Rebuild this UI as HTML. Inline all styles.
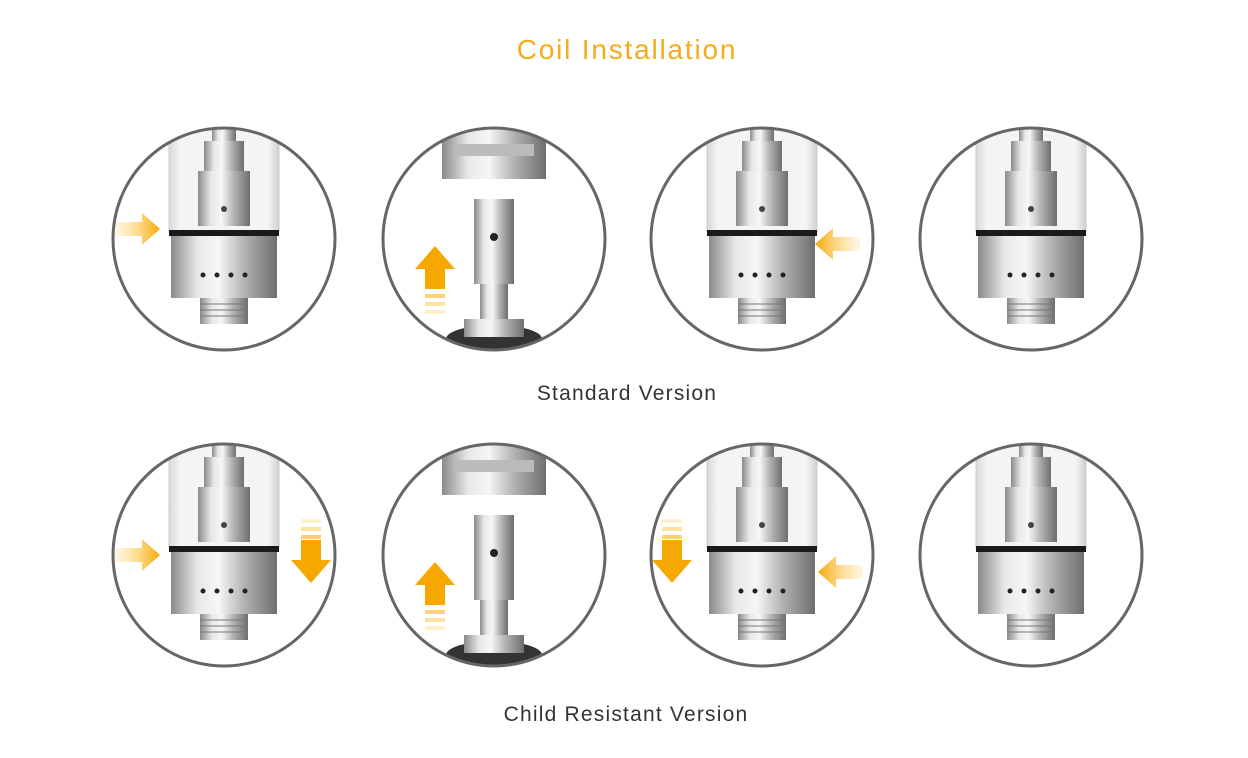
<!DOCTYPE html>
<html><head><style>
html,body{margin:0;padding:0;background:#fff;width:1248px;height:758px;overflow:hidden}
svg{display:block}
</style></head><body>
<svg width="1248" height="758" viewBox="0 0 1248 758" xmlns="http://www.w3.org/2000/svg">
<defs>
<linearGradient id="m" x1="0" x2="1" y1="0" y2="0">
<stop offset="0" stop-color="#8a8a8a"/><stop offset="0.25" stop-color="#e8e8e8"/><stop offset="0.45" stop-color="#f6f6f6"/><stop offset="0.7" stop-color="#b0b0b0"/><stop offset="1" stop-color="#6e6e6e"/>
</linearGradient>
<linearGradient id="g" x1="0" x2="1">
<stop offset="0" stop-color="#d8d8d8"/><stop offset="0.1" stop-color="#f4f4f4"/><stop offset="0.9" stop-color="#f4f4f4"/><stop offset="1" stop-color="#d0d0d0"/>
</linearGradient>
<linearGradient id="o" x1="0" x2="1"><stop offset="0" stop-color="#fde3a0" stop-opacity="0.3"/><stop offset="1" stop-color="#f7a800"/></linearGradient>
<clipPath id="c"><circle cx="0" cy="0" r="111"/></clipPath>
<g id="atom">
<rect x="-55" y="-125" width="110" height="118" fill="url(#g)" stroke="#ccc"/>
<rect x="-12" y="-125" width="24" height="30" fill="url(#m)"/>
<rect x="-20" y="-98" width="40" height="30" fill="url(#m)"/>
<rect x="-26" y="-68" width="52" height="55" fill="url(#m)"/>
<circle cx="0" cy="-30" r="3" fill="#444"/>
<rect x="-55" y="-9" width="110" height="6" fill="#1a1a1a"/>
<rect x="-53" y="-3" width="106" height="62" fill="url(#m)"/>
<circle cx="-21" cy="36" r="2.5" fill="#222"/><circle cx="-7" cy="36" r="2.5" fill="#222"/><circle cx="7" cy="36" r="2.5" fill="#222"/><circle cx="21" cy="36" r="2.5" fill="#222"/>
<rect x="-24" y="59" width="48" height="26" fill="url(#m)"/>
<line x1="-24" x2="24" y1="65" y2="65" stroke="#777"/><line x1="-24" x2="24" y1="71" y2="71" stroke="#777"/><line x1="-24" x2="24" y1="77" y2="77" stroke="#777"/>
</g>
<g id="coil">
<rect x="-52" y="-110" width="104" height="50" fill="url(#m)"/>
<rect x="-40" y="-95" width="80" height="12" fill="#bbb"/>
<rect x="-20" y="-40" width="40" height="85" fill="url(#m)"/>
<circle cx="0" cy="-2" r="4" fill="#222"/>
<rect x="-14" y="45" width="28" height="40" fill="url(#m)"/>
<ellipse cx="0" cy="100" rx="48" ry="14" fill="#333"/>
<rect x="-30" y="80" width="60" height="18" fill="url(#m)"/>
</g>
<g id="ar"><path d="M-45 -7 H-18 V-16 L0 0 L-18 16 V7 H-45 Z" fill="url(#o)"/></g>
<g id="au"><path d="M-10 15 V-5 H-20 L0 -28 L20 -5 H10 V15 Z" fill="#f7a800"/><rect x="-10" y="20" width="20" height="4" fill="#fbd27a"/><rect x="-10" y="28" width="20" height="4" fill="#fde3a0"/><rect x="-10" y="36" width="20" height="4" fill="#fef0cc"/></g>
<g id="ad"><path d="M-10 -15 V5 H-20 L0 28 L20 5 H10 V-15 Z" fill="#f7a800"/><rect x="-10" y="-20" width="20" height="4" fill="#fbd27a"/><rect x="-10" y="-28" width="20" height="4" fill="#fde3a0"/><rect x="-10" y="-36" width="20" height="4" fill="#fef0cc"/></g>
</defs>

<text x="627" y="59" text-anchor="middle" font-family="Liberation Sans, sans-serif" font-size="28" letter-spacing="1.8" fill="#f5ab1c">Coil Installation</text>
<text x="627" y="400" text-anchor="middle" font-family="Liberation Sans, sans-serif" font-size="21" letter-spacing="1.2" fill="#333">Standard Version</text>
<text x="626" y="721" text-anchor="middle" font-family="Liberation Sans, sans-serif" font-size="21" letter-spacing="1.2" fill="#333">Child Resistant Version</text>

<!-- row 1 -->
<g transform="translate(224,239)"><g clip-path="url(#c)"><use href="#atom"/><use href="#ar" transform="translate(-64,-10)"/></g><circle r="111" fill="none" stroke="#666" stroke-width="3"/></g>
<g transform="translate(494,239)"><g clip-path="url(#c)"><use href="#coil"/><use href="#au" transform="translate(-59,35)"/></g><circle r="111" fill="none" stroke="#666" stroke-width="3"/></g>
<g transform="translate(762,239)"><g clip-path="url(#c)"><use href="#atom"/><use href="#ar" transform="translate(53,5) scale(-1,1)"/></g><circle r="111" fill="none" stroke="#666" stroke-width="3"/></g>
<g transform="translate(1031,239)"><g clip-path="url(#c)"><use href="#atom"/></g><circle r="111" fill="none" stroke="#666" stroke-width="3"/></g>

<!-- row 2 -->
<g transform="translate(224,555)"><g clip-path="url(#c)"><use href="#atom"/><use href="#ar" transform="translate(-64,0)"/><use href="#ad" transform="translate(87,0)"/></g><circle r="111" fill="none" stroke="#666" stroke-width="3"/></g>
<g transform="translate(494,555)"><g clip-path="url(#c)"><use href="#coil"/><use href="#au" transform="translate(-59,35)"/></g><circle r="111" fill="none" stroke="#666" stroke-width="3"/></g>
<g transform="translate(762,555)"><g clip-path="url(#c)"><use href="#atom"/><use href="#ad" transform="translate(-90,0)"/><use href="#ar" transform="translate(56,17) scale(-1,1)"/></g><circle r="111" fill="none" stroke="#666" stroke-width="3"/></g>
<g transform="translate(1031,555)"><g clip-path="url(#c)"><use href="#atom"/></g><circle r="111" fill="none" stroke="#666" stroke-width="3"/></g>
</svg>
</body></html>
